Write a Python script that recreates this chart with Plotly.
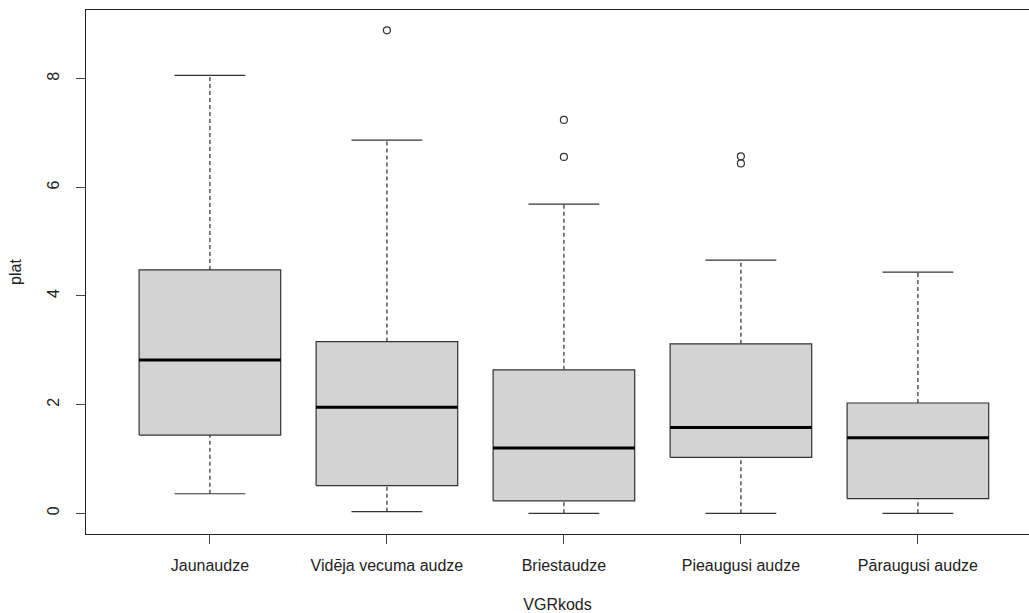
import plotly.graph_objects as go

categories = ["Jaunaudze", "Vidēja vecuma audze", "Briestaudze", "Pieaugusi audze", "Pāraugusi audze"]
lower_whisker = [0.36, 0.03, 0.00, 0.00, 0.00]
q1 = [1.44, 0.51, 0.23, 1.03, 0.27]
median = [2.82, 1.95, 1.20, 1.58, 1.39]
q3 = [4.48, 3.16, 2.64, 3.12, 2.03]
upper_whisker = [8.06, 6.87, 5.69, 4.66, 4.44]
outliers = [[], [8.89], [7.24, 6.56], [6.57, 6.44], []]

y_ticks = [0, 2, 4, 6, 8]

BOXW = 0.4
CAPW = 0.2
FONT = "Liberation Sans, Arial, sans-serif"
LINE = "#333333"

fig = go.Figure()

wx, wy, cx, cy = [], [], [], []
for i in range(len(categories)):
    x = i + 1
    wx += [x, x, None, x, x, None]
    wy += [q3[i], upper_whisker[i], None, lower_whisker[i], q1[i], None]
    cx += [x - CAPW, x + CAPW, None, x - CAPW, x + CAPW, None]
    cy += [upper_whisker[i], upper_whisker[i], None, lower_whisker[i], lower_whisker[i], None]

fig.add_trace(go.Scatter(x=wx, y=wy, mode="lines",
                         line=dict(color="#555555", width=1.5, dash="4px,3px"),
                         hoverinfo="skip", showlegend=False))
fig.add_trace(go.Scatter(x=cx, y=cy, mode="lines",
                         line=dict(color=LINE, width=1.2),
                         hoverinfo="skip", showlegend=False))

for i in range(len(categories)):
    x = i + 1
    fig.add_trace(go.Scatter(
        x=[x - BOXW, x + BOXW, x + BOXW, x - BOXW, x - BOXW],
        y=[q1[i], q1[i], q3[i], q3[i], q1[i]],
        mode="lines", fill="toself", fillcolor="#D3D3D3",
        line=dict(color=LINE, width=1.2), hoverinfo="skip", showlegend=False))
    fig.add_trace(go.Scatter(
        x=[x - BOXW, x + BOXW], y=[median[i], median[i]], mode="lines",
        line=dict(color="#000000", width=3), hoverinfo="skip", showlegend=False))

ox, oy = [], []
for i, vals in enumerate(outliers):
    for v in vals:
        ox.append(i + 1)
        oy.append(v)
fig.add_trace(go.Scatter(x=ox, y=oy, mode="markers",
                         marker=dict(symbol="circle-open", size=7, color=LINE, line=dict(width=1.2)),
                         hoverinfo="skip", showlegend=False))

fig.update_layout(
    width=1029, height=613,
    margin=dict(l=86, r=0, t=10, b=79),
    paper_bgcolor="white", plot_bgcolor="white",
    font=dict(family=FONT, size=16, color="#222222"),
    xaxis=dict(
        range=[0.3, 0.3 + 943 / 177],
        tickmode="array", tickvals=list(range(1, len(categories) + 1)), ticktext=categories,
        ticks="outside", ticklen=9, tickcolor="#444444", tickwidth=1.2,
        showline=True, linecolor="#222222", linewidth=1.2, mirror=True,
        showgrid=False, zeroline=False, ticklabelstandoff=8,
        title=dict(text="VGRkods", standoff=25, font=dict(size=16)),
    ),
    yaxis=dict(
        range=[-0.381, 9.264],
        tickmode="array", tickvals=y_ticks, ticktext=[str(v) for v in y_ticks],
        ticks="outside", ticklen=9, tickcolor="#444444", tickwidth=1.2, tickangle=-90,
        showline=True, linecolor="#222222", linewidth=1.2, mirror=False,
        showgrid=False, zeroline=False, ticklabelstandoff=11,
        title=dict(text="plat", standoff=18, font=dict(size=16)),
    ),
)

fig.write_html("out.html")
